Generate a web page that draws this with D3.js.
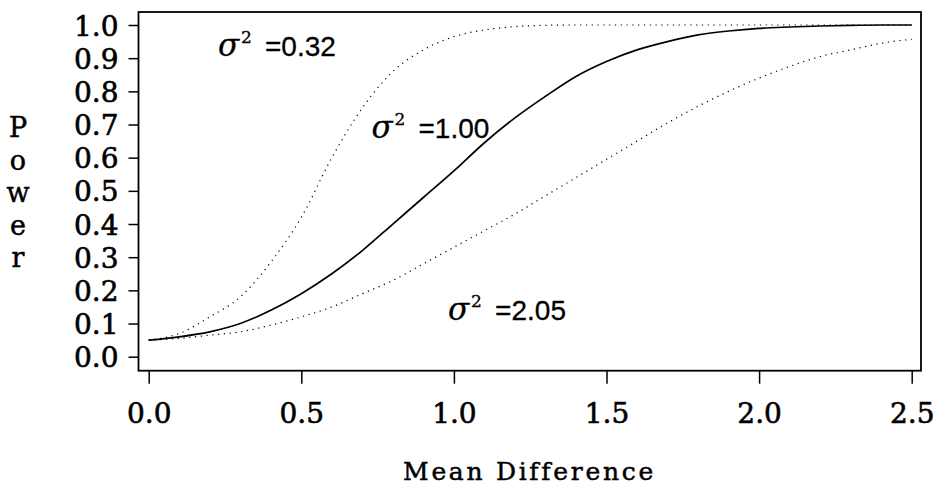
<!DOCTYPE html>
<html>
<head>
<meta charset="utf-8">
<script src="https://cdn.jsdelivr.net/npm/d3@7"></script>
<style>
  body { margin: 0; background: #fff; }
  svg { display: block; }
</style>
</head>
<body>
<div id="chart"></div>
<script>
const WIDTH = 936;
const HEIGHT = 485;

// mean difference values (x)
const diffs = [0, 0.1, 0.2, 0.3, 0.4, 0.5, 0.6, 0.7, 0.8, 0.9, 1.0, 1.1, 1.2,
  1.3, 1.4, 1.5, 1.6, 1.7, 1.8, 1.9, 2.0, 2.1, 2.2, 2.3, 2.4, 2.5];

// power, one list per variance
const power032 = [0.05, 0.07, 0.12, 0.18, 0.285, 0.42, 0.60, 0.75, 0.86, 0.925,
  0.965, 0.985, 0.995, 0.999, 1.0, 1.0, 1.0, 1.0, 1.0, 1.0, 1.0, 1.0, 1.0, 1.0, 1.0, 1.0];
const power100 = [0.05, 0.06, 0.075, 0.10, 0.14, 0.19, 0.25, 0.32, 0.40, 0.48,
  0.56, 0.645, 0.72, 0.785, 0.845, 0.89, 0.925, 0.95, 0.97, 0.982, 0.99, 0.994,
  0.997, 0.999, 1.0, 1.0];
const power205 = [0.05, 0.055, 0.065, 0.075, 0.095, 0.12, 0.15, 0.19, 0.23, 0.28,
  0.33, 0.38, 0.43, 0.485, 0.54, 0.595, 0.65, 0.705, 0.755, 0.80, 0.84, 0.875,
  0.905, 0.925, 0.945, 0.957];

const xTicks = [0, 0.5, 1.0, 1.5, 2.0, 2.5];
const yTicks = [0, 0.1, 0.2, 0.3, 0.4, 0.5, 0.6, 0.7, 0.8, 0.9, 1.0];

// variance labels, anchored in data units
const varLabels = ["0.32", "1.00", "2.05"];
const varLabelAt = [[0.227, 0.906], [0.730, 0.658], [0.981, 0.112]];

const BOX = { left: 138.5, right: 921, top: 12, bottom: 370.7 };

const x = d3.scaleLinear().domain([0, 2.5]).range([148.7, 911.7]);
const y = d3.scaleLinear().domain([0, 1]).range([356.7, 25]);

const svg = d3.select('#chart').append('svg')
  .attr('width', WIDTH).attr('height', HEIGHT);

const serif = '"DejaVu Serif", serif';
const sans = '"Liberation Sans", Arial, sans-serif';

// heavier look, like the original's schoolbook type
const heavy = (sel, w) => sel.attr('fill', '#000').attr('stroke', '#000')
  .attr('stroke-width', w).attr('paint-order', 'stroke');

// plot frame
svg.append('rect')
  .attr('x', BOX.left).attr('y', BOX.top)
  .attr('width', BOX.right - BOX.left).attr('height', BOX.bottom - BOX.top)
  .attr('fill', 'none').attr('stroke', '#000').attr('stroke-width', 1.8);

// axes
const xAxis = svg.append('g')
  .attr('transform', `translate(0,${BOX.bottom})`)
  .call(d3.axisBottom(x).tickValues(xTicks).tickFormat(d3.format('.1f')).tickSize(13));
xAxis.select('.domain').remove();
xAxis.selectAll('line').attr('stroke-width', 1.5);
xAxis.selectAll('text')
  .attr('dy', null).attr('y', 52.5)
  .style('font-family', serif).style('font-size', '28px')
  .call(heavy, 0.6);

const yAxis = svg.append('g')
  .attr('transform', `translate(${BOX.left},0)`)
  .call(d3.axisLeft(y).tickValues(yTicks).tickFormat(d3.format('.1f')).tickSize(10).tickPadding(10));
yAxis.select('.domain').remove();
yAxis.selectAll('line').attr('stroke-width', 1.5);
yAxis.selectAll('text')
  .attr('dy', '0.36em')
  .style('font-family', serif).style('font-size', '28px')
  .call(heavy, 0.6);

// axis titles
svg.append('text')
  .attr('x', 529.5).attr('y', 480)
  .attr('text-anchor', 'middle')
  .style('font-family', serif).style('font-size', '25px')
  .style('letter-spacing', '2.7px')
  .text('Mean Difference')
  .call(heavy, 0.5);

svg.append('g').selectAll('text')
  .data('Power'.split(''))
  .join('text')
  .attr('x', 18).attr('y', (d, i) => 137 + i * 32.5)
  .attr('text-anchor', 'middle')
  .style('font-family', serif).style('font-size', '27px')
  .text(d => d)
  .call(heavy, 0.5);

// curves
const line = d3.line()
  .x(d => x(d[0]))
  .y(d => y(d[1]))
  .curve(d3.curveMonotoneX);

const series = [
  { values: power032, dash: '1.2,4.6', width: 1.2 },
  { values: power205, dash: '1.2,4.6', width: 1.2 },
  { values: power100, dash: null, width: 1.7 }
];

svg.append('g').selectAll('path')
  .data(series)
  .join('path')
  .attr('d', s => line(diffs.map((d, i) => [d, s.values[i]])))
  .attr('fill', 'none')
  .attr('stroke', '#000')
  .attr('stroke-width', s => s.width)
  .attr('stroke-dasharray', s => s.dash);

// variance annotations
const ann = svg.append('g').selectAll('g')
  .data(varLabels)
  .join('g')
  .attr('transform', (d, i) => `translate(${x(varLabelAt[i][0])},${y(varLabelAt[i][1])})`);

ann.append('text')
  .style('font-family', serif).style('font-style', 'italic').style('font-size', '31px')
  .text('σ')
  .call(heavy, 0.3);
ann.append('text')
  .attr('x', 23).attr('y', -13)
  .style('font-family', serif).style('font-size', '17px')
  .text('2')
  .call(heavy, 0.3);
ann.append('text')
  .attr('x', 47)
  .style('font-family', sans).style('font-size', '28px')
  .text(d => '=' + d)
  .call(heavy, 0.3);
</script>
</body>
</html>
